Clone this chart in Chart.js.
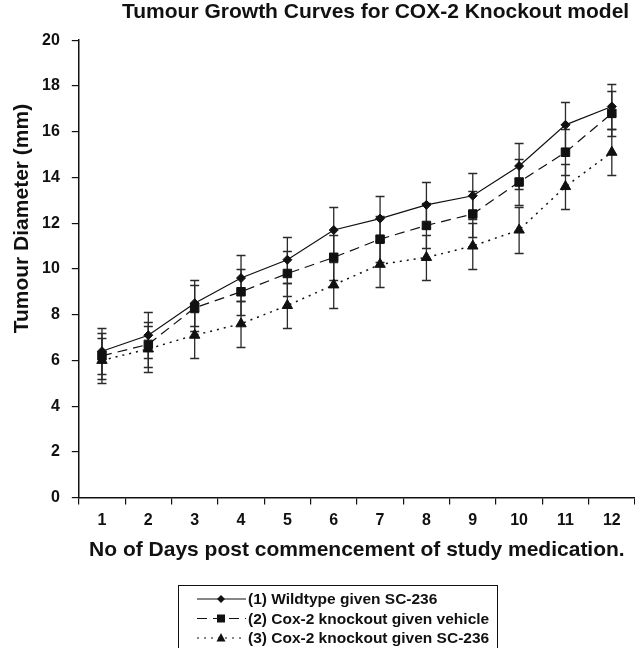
<!DOCTYPE html>
<html>
<head>
<meta charset="utf-8">
<script src="https://cdn.jsdelivr.net/npm/chart.js@4/dist/chart.umd.min.js"></script>
<style>
  html, body { margin: 0; padding: 0; background: #fff; }
  #wrap { width: 635px; height: 648px; }
</style>
</head>
<body>
<div id="wrap"><canvas id="myChart"></canvas></div>
<script>
// days on the x axis
const days = ['1', '2', '3', '4', '5', '6', '7', '8', '9', '10', '11', '12'];

// mean tumour diameter (mm)
const wildtype  = [6.4, 7.1, 8.5, 9.6, 10.4, 11.7, 12.2, 12.8, 13.2, 14.5, 16.3, 17.1];
const koVehicle = [6.2, 6.7, 8.3, 9.0, 9.8, 10.5, 11.3, 11.9, 12.4, 13.8, 15.1, 16.8];
const koSc236   = [6.0, 6.5, 7.1, 7.6, 8.4, 9.3, 10.2, 10.5, 11.0, 11.7, 13.6, 15.1];

// error bar half-widths (mm)
const wildtypeErr  = [1.0, 1.0, 1.0, 1.0, 1.0, 1.0, 1.0, 1.0, 1.0, 1.0, 1.0, 1.0];
const koVehicleErr = [1.0, 1.0, 1.0, 1.0, 1.0, 1.0, 1.0, 1.0, 1.0, 1.0, 1.0, 1.0];
const koSc236Err   = [1.0, 1.0, 1.0, 1.0, 1.0, 1.0, 1.0, 1.0, 1.0, 1.0, 1.0, 1.0];

const seriesLabels = [
  '(1) Wildtype given SC-236',
  '(2) Cox-2 knockout given vehicle',
  '(3) Cox-2 knockout given SC-236'
];

const ink = '#111';
const family = '"Liberation Sans", Arial, sans-serif';

// vertical error bars with caps, placed through the chart's own scales
const errorBars = {
  id: 'errorBars',
  beforeDatasetsDraw(chart) {
    const ctx = chart.ctx;
    const yScale = chart.scales.y;
    ctx.save();
    ctx.strokeStyle = '#2a2a2a';
    ctx.lineWidth = 1.3;
    chart.data.datasets.forEach((ds, di) => {
      const meta = chart.getDatasetMeta(di);
      meta.data.forEach((pt, i) => {
        const v = ds.data[i], e = ds.err[i];
        const yTop = Math.round(yScale.getPixelForValue(v + e)) + 0.5;
        const yBot = Math.round(yScale.getPixelForValue(v - e)) + 0.5;
        const x = pt.x;
        ctx.beginPath();
        ctx.moveTo(x, yTop); ctx.lineTo(x, yBot);
        ctx.moveTo(x - 4.5, yTop); ctx.lineTo(x + 4.5, yTop);
        ctx.moveTo(x - 4.5, yBot); ctx.lineTo(x + 4.5, yBot);
        ctx.stroke();
      });
    });
    ctx.restore();
  }
};

// y axis title, sitting a bit above the middle of the axis as in the original
const yTitle = {
  id: 'yTitle',
  afterDraw(chart) {
    const ctx = chart.ctx;
    const area = chart.chartArea;
    ctx.save();
    ctx.translate(22, area.top + (area.bottom - area.top) * 0.39);
    ctx.rotate(-Math.PI / 2);
    ctx.font = 'bold 21px ' + family;
    ctx.fillStyle = ink;
    ctx.textAlign = 'center';
    ctx.textBaseline = 'middle';
    ctx.fillText('Tumour Diameter (mm)', 0, 0);
    ctx.restore();
  }
};

function drawMarker(ctx, style, x, y) {
  ctx.beginPath();
  if (style === 'rectRot') {
    ctx.moveTo(x, y - 4); ctx.lineTo(x + 4, y); ctx.lineTo(x, y + 4); ctx.lineTo(x - 4, y);
  } else if (style === 'rect') {
    ctx.rect(x - 4, y - 4, 8, 8);
  } else {
    ctx.moveTo(x, y - 5); ctx.lineTo(x + 4.5, y + 3.5); ctx.lineTo(x - 4.5, y + 3.5);
  }
  ctx.closePath();
  ctx.fill();
}

// boxed legend under the x axis title
const boxLegend = {
  id: 'boxLegend',
  afterDraw(chart) {
    const ctx = chart.ctx;
    const top = chart.height - 63;
    const left = 178, right = 497;
    ctx.save();
    ctx.strokeStyle = ink;
    ctx.lineWidth = 1;
    ctx.strokeRect(left + 0.5, top + 0.5, right - left, 90);
    ctx.font = 'bold 15.5px ' + family;
    ctx.textBaseline = 'middle';
    ctx.fillStyle = ink;
    chart.data.datasets.forEach((ds, i) => {
      const y = top + 14 + i * 19.5;
      ctx.strokeStyle = ink;
      ctx.lineWidth = 1.2;
      ctx.setLineDash(ds.borderDash || []);
      ctx.beginPath();
      ctx.moveTo(197, y); ctx.lineTo(246, y);
      ctx.stroke();
      ctx.setLineDash([]);
      drawMarker(ctx, ds.pointStyle, 221, y);
      ctx.fillText(ds.label, 248, y + 1);
    });
    ctx.restore();
  }
};

const ctx = document.getElementById('myChart').getContext('2d');

new Chart(ctx, {
  type: 'line',
  data: {
    labels: days,
    datasets: [
      {
        label: seriesLabels[0], data: wildtype, err: wildtypeErr,
        borderColor: ink, backgroundColor: ink, borderWidth: 1.2,
        pointStyle: 'rectRot', pointRadius: 4.5, pointBorderWidth: 1,
        borderDash: [], tension: 0
      },
      {
        label: seriesLabels[1], data: koVehicle, err: koVehicleErr,
        borderColor: ink, backgroundColor: ink, borderWidth: 1.2,
        pointStyle: 'rect', pointRadius: 6, pointBorderWidth: 1,
        borderDash: [10, 6], tension: 0
      },
      {
        label: seriesLabels[2], data: koSc236, err: koSc236Err,
        borderColor: ink, backgroundColor: ink, borderWidth: 1.5,
        pointStyle: 'triangle', pointRadius: 6, pointBorderWidth: 1,
        borderDash: [2, 5], tension: 0
      }
    ]
  },
  options: {
    responsive: true,
    maintainAspectRatio: false,
    animation: false,
    layout: { autoPadding: false, padding: { left: 30, right: 0, top: 0, bottom: 85 } },
    font: { family: family },
    plugins: {
      legend: { display: false },
      tooltip: { enabled: false },
      title: {
        display: true,
        // trailing space keeps the title just short of the right edge
        text: 'Tumour Growth Curves for COX-2 Knockout model ',
        align: 'end',
        color: ink,
        font: { family: family, size: 21, weight: 'bold' },
        padding: { top: 0, bottom: 15 }
      }
    },
    scales: {
      x: {
        offset: true,
        afterFit(scale) { scale.paddingRight = 0; },
        grid: { offset: true, drawOnChartArea: false, color: ink, tickLength: 7, lineWidth: 1.2 },
        border: { color: ink, width: 1.5 },
        ticks: { color: ink, font: { family: family, size: 16, weight: 'bold' }, padding: 6 },
        title: {
          display: true,
          text: 'No of Days post commencement of study medication.',
          color: ink,
          font: { family: family, size: 21, weight: 'bold' },
          padding: { top: 2, bottom: 0 }
        }
      },
      y: {
        min: 0, max: 20,
        grid: { drawOnChartArea: false, color: ink, tickLength: 7, lineWidth: 1.2 },
        border: { color: ink, width: 1.5 },
        ticks: { stepSize: 2, color: ink, font: { family: family, size: 16, weight: 'bold' }, padding: 12 },
        title: { display: false }
      }
    }
  },
  plugins: [errorBars, yTitle, boxLegend]
});
</script>
</body>
</html>
